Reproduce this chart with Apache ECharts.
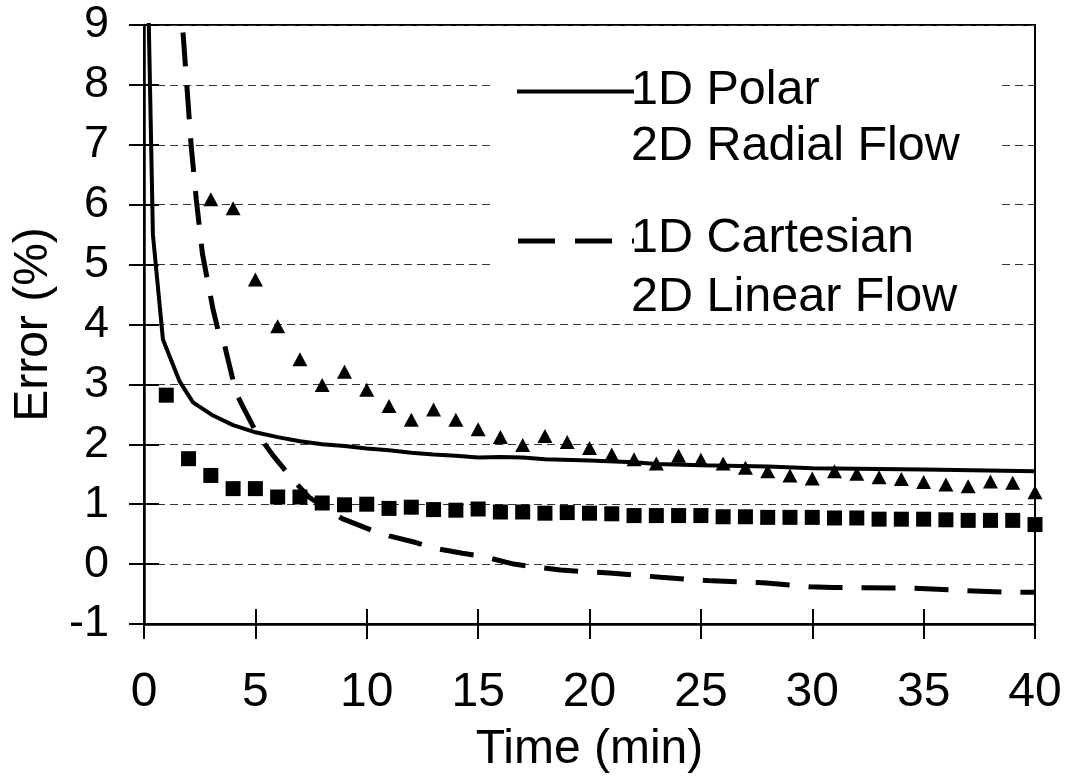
<!DOCTYPE html>
<html>
<head>
<meta charset="utf-8">
<title>Error vs Time</title>
<script src="https://cdn.jsdelivr.net/npm/echarts@6/dist/echarts.min.js"></script>
<style>
  html, body { margin: 0; padding: 0; background: #fff; }
  #chart { width: 1068px; height: 781px; }
</style>
</head>
<body>
<div id="chart"></div>
<script>
// 1D Polar model (solid line)
const polarTime = [0.2, 0.4, 0.85, 1.6, 2.2, 3.1, 4, 5, 6, 7, 8, 9, 10, 11, 12, 13, 14, 15, 16, 17, 18, 20, 22, 23, 25, 28, 30, 35, 40];
const polarErr = [9.3, 5.5, 3.75, 3.05, 2.7, 2.48, 2.32, 2.2, 2.12, 2.05, 2.0, 1.97, 1.93, 1.9, 1.86, 1.83, 1.81, 1.78, 1.79, 1.78, 1.75, 1.73, 1.7, 1.67, 1.65, 1.63, 1.6, 1.58, 1.55];

// 1D Cartesian model (dashed line)
const cartTime = [1.7, 1.75, 1.97, 2.12, 2.35, 2.62, 3.09, 3.32, 3.54, 4.14, 4.52, 5.04, 5.78, 6.68, 7.4, 8.3, 8.9, 10.2, 11, 12.2, 13.1, 14.3, 15.2, 16.6, 17.4, 18.7, 20.9, 21.9, 23.2, 25.5, 27.8, 29.9, 30.9, 34.5, 36.7, 38.9, 40];
const cartErr = [9.2, 8.88, 7.75, 6.97, 6.08, 5.19, 4.27, 3.91, 3.77, 2.85, 2.57, 2.2, 1.82, 1.41, 1.12, 0.9, 0.76, 0.57, 0.47, 0.36, 0.26, 0.18, 0.13, 0.0, -0.04, -0.1, -0.15, -0.18, -0.22, -0.28, -0.31, -0.38, -0.39, -0.4, -0.44, -0.47, -0.47];

// 2D Linear Flow (squares), one point per minute
const squareTime = [1, 2, 3, 4, 5, 6, 7, 8, 9, 10, 11, 12, 13, 14, 15, 16, 17, 18, 19, 20, 21, 22, 23, 24, 25, 26, 27, 28, 29, 30, 31, 32, 33, 34, 35, 36, 37, 38, 39, 40];
const squareErr = [2.82, 1.76, 1.48, 1.26, 1.26, 1.12, 1.12, 1.02, 0.99, 1.0, 0.93, 0.95, 0.91, 0.9, 0.92, 0.87, 0.87, 0.85, 0.86, 0.85, 0.84, 0.81, 0.81, 0.81, 0.81, 0.79, 0.79, 0.78, 0.78, 0.78, 0.77, 0.77, 0.75, 0.75, 0.75, 0.74, 0.73, 0.73, 0.73, 0.66];

// 2D Radial Flow (triangles)
const triTime = [3, 4, 5, 6, 7, 8, 9, 10, 11, 12, 13, 14, 15, 16, 17, 18, 19, 20, 21, 22, 23, 24, 25, 26, 27, 28, 29, 30, 31, 32, 33, 34, 35, 36, 37, 38, 39, 40];
const triErr = [6.09, 5.94, 4.75, 3.97, 3.42, 2.99, 3.21, 2.91, 2.64, 2.41, 2.58, 2.41, 2.25, 2.12, 1.99, 2.14, 2.04, 1.94, 1.83, 1.75, 1.68, 1.81, 1.74, 1.68, 1.61, 1.55, 1.48, 1.43, 1.55, 1.51, 1.45, 1.42, 1.37, 1.33, 1.3, 1.38, 1.36, 1.2];

const legendLines = [
  ["1D Polar", "2D Radial Flow"],
  ["1D Cartesian", "2D Linear Flow"],
];

const FONT = "'Liberation Sans', Arial, sans-serif";

const zip = (xs, ys) => xs.map((x, i) => [x, ys[i]]);

const chart = echarts.init(document.getElementById("chart"));

// x/y axes are doubled so the ticks cross the axis line (one set in, one out)
const xBase = { type: "value", min: 0, max: 40, interval: 5, position: "bottom" };
const yBase = { type: "value", min: -1, max: 9, interval: 1, position: "left" };

const legendText = (text, x, y) => ({
  type: "text",
  z: 11,
  style: { text: text, x: x, y: y, fill: "#000", fontSize: 48.5, fontFamily: FONT, verticalAlign: "middle" },
});

const option = {
  animation: false,
  backgroundColor: "#fff",
  grid: {
    left: 144,
    right: 33,
    top: 25,
    bottom: 157,
    show: true,
    borderColor: "#000",
    borderWidth: 2,
  },
  xAxis: [
    {
      ...xBase,
      name: "Time (min)",
      nameLocation: "middle",
      nameGap: 102,
      nameTextStyle: { color: "#000", fontSize: 48, fontFamily: FONT },
      axisLine: { onZero: false, lineStyle: { color: "#000", width: 2.5 } },
      axisTick: { length: 15, lineStyle: { color: "#000", width: 2 } },
      axisLabel: { color: "#000", fontSize: 48, fontFamily: FONT, margin: 45 },
      splitLine: { show: false },
    },
    {
      ...xBase,
      axisLine: { show: false, onZero: false },
      axisTick: { inside: true, length: 15, lineStyle: { color: "#000", width: 2 } },
      axisLabel: { show: false },
      splitLine: { show: false },
    },
  ],
  yAxis: [
    {
      ...yBase,
      name: "Error (%)",
      nameLocation: "middle",
      nameGap: 84,
      nameTextStyle: { color: "#000", fontSize: 48, fontFamily: FONT },
      axisLine: { onZero: false, lineStyle: { color: "#000", width: 2.5 } },
      axisTick: { length: 15, lineStyle: { color: "#000", width: 2 } },
      axisLabel: { color: "#000", fontSize: 45, fontFamily: FONT, margin: 35 },
      splitLine: { show: true, lineStyle: { color: "#333", width: 1, type: [8, 5] } },
    },
    {
      ...yBase,
      axisLine: { show: false, onZero: false },
      axisTick: { inside: true, length: 15, lineStyle: { color: "#000", width: 2 } },
      axisLabel: { show: false },
      splitLine: { show: false },
    },
  ],
  series: [
    {
      name: legendLines[0][0],
      type: "line",
      data: zip(polarTime, polarErr),
      symbol: "none",
      clip: true,
      lineStyle: { color: "#000", width: 4 },
      emphasis: { disabled: true },
      z: 3,
    },
    {
      name: legendLines[1][0],
      type: "line",
      data: zip(cartTime, cartErr),
      symbol: "none",
      clip: true,
      lineStyle: { color: "#000", width: 5, type: [34, 19], dashOffset: 33.5, cap: "butt" },
      emphasis: { disabled: true },
      z: 3,
    },
    {
      name: "2D Radial Flow data",
      type: "scatter",
      data: zip(triTime, triErr),
      symbol: "triangle",
      symbolSize: [15, 14],
      itemStyle: { color: "#000", opacity: 1 },
      emphasis: { disabled: true },
      z: 4,
    },
    {
      name: "2D Linear Flow data",
      type: "scatter",
      data: zip(squareTime, squareErr),
      symbol: "rect",
      symbolSize: 15,
      itemStyle: { color: "#000", opacity: 1 },
      emphasis: { disabled: true },
      z: 4,
    },
  ],
  // Excel-style key: white box over the gridlines, sample line beside the first text line
  graphic: [
    { type: "rect", z: 10, shape: { x: 493, y: 40, width: 509, height: 278 }, style: { fill: "#fff" } },
    { type: "line", z: 11, shape: { x1: 517, y1: 91.5, x2: 634, y2: 91.5 }, style: { stroke: "#000", lineWidth: 4 } },
    { type: "line", z: 11, shape: { x1: 518, y1: 241, x2: 634, y2: 241 }, style: { stroke: "#000", lineWidth: 5, lineDash: [37, 20] } },
    legendText(legendLines[0][0], 631, 91),
    legendText(legendLines[0][1], 631, 147),
    legendText(legendLines[1][0], 631, 239),
    legendText(legendLines[1][1], 631, 298),
  ],
};

chart.setOption(option);
</script>
</body>
</html>
